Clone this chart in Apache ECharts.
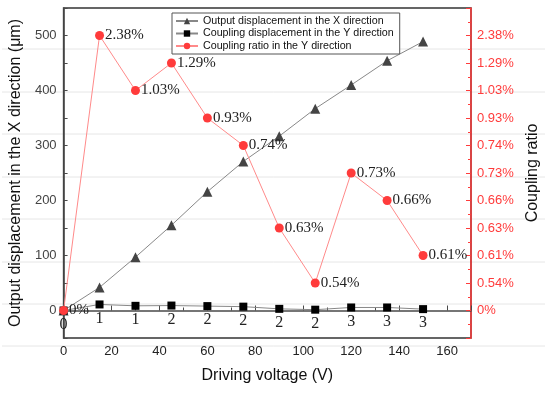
<!DOCTYPE html>
<html><head><meta charset="utf-8">
<script src="https://cdn.jsdelivr.net/npm/echarts@6/dist/echarts.min.js"></script>
<style>html,body{margin:0;padding:0;background:#fff}#c{width:550px;height:396px}</style>
</head><body><div id="c"></div>
<script>
const voltages = [0, 15, 30, 45, 60, 75, 90, 105, 120, 135, 150];
const outputX = [0, 42, 97, 155, 216, 271, 317, 367, 410, 454, 489];
const couplingY = [0, 11, 8.5, 9, 8, 7, 3, 1.5, 5.5, 5.5, 2.5];
const couplingYLabels = ['0', '1', '1', '2', '2', '2', '2', '2', '3', '3', '3'];
const couplingRatio = ['0%', '2.38%', '1.03%', '1.29%', '0.93%', '0.74%', '0.63%', '0.54%', '0.73%', '0.66%', '0.61%'];
const rightTicks = ['0%', '0.54%', '0.61%', '0.63%', '0.66%', '0.73%', '0.74%', '0.93%', '1.03%', '1.29%', '2.38%'];
const bgLinesY = [49, 92, 134, 177, 219, 262, 304, 346];

const chart = echarts.init(document.getElementById('c'));
const sans = 'Liberation Sans, Arial, sans-serif';
const serif = 'Liberation Serif, Times New Roman, serif';
const red = '#ff3b3b';
const axisGrey = '#4a4a4a';

const graphic = bgLinesY.map(y => ({
  type: 'line', z: -10, silent: true,
  shape: { x1: 2, y1: y, x2: 545, y2: y },
  style: { stroke: '#e6e6e6', lineWidth: 1 }
}));

chart.setOption({
  animation: false,
  graphic: graphic,
  grid: { left: 63, right: 79, top: 8, bottom: 58, show: true, borderColor: '#333', borderWidth: 1.5, backgroundColor: 'transparent' },
  legend: {
    orient: 'vertical', left: 172, top: 13, itemGap: 0.5, itemWidth: 22, itemHeight: 8,
    padding: [2, 6, 2, 3], borderColor: '#555', borderWidth: 1, backgroundColor: '#fff',
    textStyle: { fontSize: 10.7, color: '#111', fontFamily: sans, lineHeight: 12 },
    data: ['Output displacement in the X direction', 'Coupling displacement in the Y direction', 'Coupling ratio in the Y direction']
  },
  xAxis: {
    type: 'value', min: 0, max: 170, interval: 20,
    name: 'Driving voltage (V)', nameLocation: 'middle', nameGap: 30,
    nameTextStyle: { fontSize: 16, color: '#111', fontFamily: sans },
    axisLine: { show: true, lineStyle: { color: axisGrey, width: 1.5 } },
    axisTick: { show: true, inside: true, length: 5, lineStyle: { color: axisGrey } },
    minorTick: { show: true, splitNumber: 2, length: 3, lineStyle: { color: axisGrey } },
    axisLabel: { fontSize: 13, color: '#222', fontFamily: sans, margin: 7, formatter: v => (v <= 160 ? String(v) : '') },
    splitLine: { show: false }
  },
  yAxis: [{
    type: 'value', min: -50, max: 550, interval: 50, position: 'left',
    name: 'Output displacement in the X direction (μm)', nameLocation: 'middle', nameGap: 38,
    nameTextStyle: { fontSize: 16, color: '#111', fontFamily: sans },
    axisLine: { show: true, lineStyle: { color: axisGrey, width: 1.5 } },
    axisTick: { show: true, inside: true, length: 4, lineStyle: { color: axisGrey } },
    axisLabel: { fontSize: 13, color: '#444', fontFamily: sans, margin: 7,
      formatter: v => (v >= 0 && v <= 500 && v % 100 === 0 ? String(v) : '') },
    splitLine: { show: false }
  }, {
    type: 'value', min: -1, max: 11, interval: 1, position: 'right',
    name: 'Coupling ratio', nameLocation: 'middle', nameGap: 49,
    nameTextStyle: { fontSize: 16, color: '#111', fontFamily: sans },
    axisLine: { show: true, lineStyle: { color: red, width: 1.5 } },
    axisTick: { show: true, inside: true, length: 5, lineStyle: { color: red } },
    minorTick: { show: true, splitNumber: 2, length: 3, lineStyle: { color: red } },
    axisLabel: { fontSize: 13, color: red, fontFamily: sans, margin: 6,
      formatter: v => (rightTicks[v] !== undefined ? rightTicks[v] : '') },
    splitLine: { show: false }
  }],
  series: [{
    name: 'Output displacement in the X direction', type: 'line', yAxisIndex: 0,
    data: voltages.map((v, i) => [v, outputX[i]]),
    symbol: 'triangle', symbolSize: 10,
    itemStyle: { color: '#444' }, lineStyle: { color: '#888', width: 1 }, z: 2
  }, {
    name: 'Coupling displacement in the Y direction', type: 'line', yAxisIndex: 0,
    data: voltages.map((v, i) => [v, couplingY[i]]),
    symbol: 'rect', symbolSize: 8,
    itemStyle: { color: '#000' }, lineStyle: { color: '#888', width: 1 },
    label: { show: true, position: 'bottom', distance: 2, fontSize: 16, color: '#222', fontFamily: serif,
      formatter: p => couplingYLabels[p.dataIndex] }, z: 3
  }, {
    name: 'Coupling ratio in the Y direction', type: 'line', yAxisIndex: 1,
    data: voltages.map((v, i) => [v, rightTicks.indexOf(couplingRatio[i])]),
    symbol: 'circle', symbolSize: 9,
    itemStyle: { color: red }, lineStyle: { color: '#ff8a8a', width: 1 },
    label: { show: true, position: 'right', distance: 1, fontSize: 15, color: '#222', fontFamily: serif,
      formatter: p => couplingRatio[p.dataIndex] }, z: 4
  }]
});
</script></body></html>
